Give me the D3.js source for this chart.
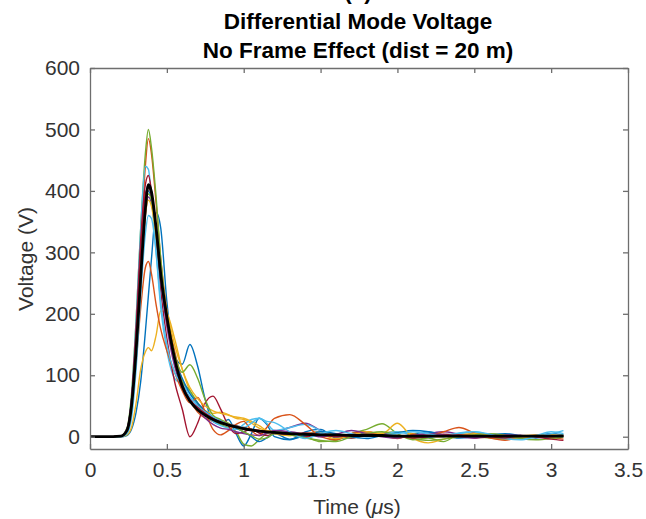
<!DOCTYPE html>
<html>
<head>
<meta charset="utf-8">
<script src="https://cdn.jsdelivr.net/npm/d3@7"></script>
<style>
  body { margin: 0; background: #fff; }
  text { font-family: "Liberation Sans", Arial, sans-serif; }
</style>
</head>
<body>
<div id="chart"></div>
<script>
// time samples (us) shared by every run
const timeUs = [0, 0.1, 0.2, 0.24, 0.27, 0.30, 0.33, 0.36, 0.38, 0.40,
  0.43, 0.46, 0.50, 0.55, 0.60, 0.65, 0.70, 0.75, 0.80, 0.85,
  0.90, 0.95, 1.00, 1.05, 1.10, 1.15, 1.20, 1.3, 1.4, 1.5,
  1.6, 1.7, 1.8, 1.9, 2.0, 2.1, 2.2, 2.3, 2.4, 2.5,
  2.6, 2.7, 2.8, 2.9, 3.0, 3.08];

// voltage (V) for each simulated stroke
const run01 = [0,0,0,2,12,40,90,170,230,290, 365,340,220,130,118,150,115,60,25,20, 28,5,-15,5,30,20,0,-5,8,12, -2,0,6,3,-2,4,8,3,0,6, 2,-3,0,2,5,3];
const run02 = [0,0,1,12,60,170,310,440,485,460, 380,290,205,140,92,60,40,30,25,22, 20,18,15,12,10,9,8,6,5,4, 3,3,2,2,1,1,1,1,2,1, 1,0,0,1,1,1];
const run03 = [0,0,0,3,15,55,110,138,145,140, 165,205,200,160,110,75,55,42,38,40, 36,30,28,22,14,10,8,2,5,8, 3,-2,2,6,8,5,0,0,5,3, 2,0,1,3,2,1];
const run04 = [0,0,1,10,45,135,255,360,390,380, 330,260,190,120,78,62,52,40,30,24, 20,15,12,10,9,6,8,15,22,10, 0,5,8,3,0,2,5,8,4,0, 2,1,0,1,2,1];
const run05 = [0,0,1,14,70,190,340,460,500,470, 390,290,200,125,90,75,55,38,28,20, 15,8,-12,-15,-5,5,8,6,0,-8, -6,5,12,21,5,-5,-2,-8,3,0, -2,-4,-3,0,2,1];
const run06 = [0,0,1,12,65,190,340,440,435,390, 300,210,140,95,85,70,50,35,25,18, 14,12,20,28,30,22,10,15,20,10, 0,-2,3,5,8,2,-1,3,5,8, 3,0,-2,2,8,5];
const run07 = [0,0,1,12,60,175,320,410,425,400, 330,240,160,90,45,0,22,55,66,45, 18,5,8,12,6,2,5,3,0,4, 2,-2,3,5,2,-1,2,4,1,-2, 0,2,1,-1,0,1];
const run08 = [0,0,1,10,55,160,290,380,400,385, 330,255,185,125,95,70,55,42,32,26, 20,14,8,0,-8,-2,5,-4,2,8, 5,0,-3,2,6,10,8,2,-2,0, 3,5,2,-2,0,2];
const run09 = [0,0,1,10,45,120,210,275,285,265, 215,175,140,105,75,55,64,40,12,3, 10,20,25,10,2,15,30,36,20,0, -5,5,8,2,-3,4,2,8,15,6, -2,-6,0,2,-1,-4];
const run10 = [0,0,1,8,45,140,260,360,385,375, 325,265,205,150,110,80,62,50,42,38, 35,32,30,25,18,10,5,2,5,3, -3,2,8,5,22,-2,-10,-4,2,5, 3,0,-2,1,3,2];
const run11 = [0,0,1,12,58,165,300,390,410,395, 335,255,180,115,80,58,45,30,20,14, 12,8,5,3,2,6,10,8,4,0, 4,10,5,0,-2,2,5,3,0,-2, 1,3,2,0,1,1];
const run12 = [0,0,1,10,50,150,280,375,395,385, 335,270,200,135,105,117,95,60,35,28, 22,15,8,2,-4,-2,5,3,-2,-6, -8,0,5,8,2,-3,-6,-4,0,3, 5,2,-3,-5,-3,0];
const run13 = [0,0,0,5,30,110,230,330,360,355, 300,220,150,105,85,65,50,40,32,25, 20,18,15,22,30,25,23,8,-3,5, 10,5,0,3,5,8,5,0,6,8, 4,-3,-5,0,5,10];
const run14 = [0,0,1,11,58,170,305,395,405,392, 335,260,190,125,85,60,48,38,30,24, 20,17,14,12,10,8,6,4,6,3, 0,2,4,3,1,-2,0,2,3,1, 0,-2,2,0,-4,-6];
// average of all runs
const meanRun = [0,0,1,10,50,140,260,370,410,398, 340,265,195,128,82,58,44,35,28,23, 19,16,13,11,9,8,7,5,4,3, 3,2,2,2,1,1,1,1,1,1, 1,1,1,1,1,1];

const runs = [run01, run02, run03, run04, run05, run06, run07, run08, run09, run10, run11, run12, run13, run14];
const xTicks = [0, 0.5, 1, 1.5, 2, 2.5, 3, 3.5];
const yTicks = [0, 100, 200, 300, 400, 500, 600];

// matlab default color order
const colorOrder = ["#0072BD", "#D95319", "#EDB120", "#7E2F8E", "#77AC30", "#4DBEEE", "#A2142F"];

const W = 646, H = 519;
const margin = {top: 68, right: 18, bottom: 70, left: 90};
const width = W - margin.left - margin.right,
      height = H - margin.top - margin.bottom;

const svg = d3.select("#chart").append("svg")
    .attr("width", W)
    .attr("height", H);

const g = svg.append("g")
    .attr("transform", `translate(${margin.left},${margin.top})`);

const x = d3.scaleLinear().domain([0, 3.5]).range([0, width]);
const y = d3.scaleLinear().domain([-20, 600]).range([height, 0]);

const line = d3.line()
    .x((d, i) => x(timeUs[i]))
    .y(d => y(d))
    .curve(d3.curveMonotoneX);

const plot = g.append("g");
plot.selectAll("path.run")
  .data(runs)
  .join("path")
    .attr("class", "run")
    .attr("fill", "none")
    .attr("stroke", (d, i) => colorOrder[i % colorOrder.length])
    .attr("stroke-width", 1.4)
    .attr("d", line);

plot.append("path")
    .attr("fill", "none")
    .attr("stroke", "#000")
    .attr("stroke-width", 2.8)
    .attr("d", line(meanRun));

// axes, matlab style ticks pointing in
const axisColor = "#6e6e6e", textColor = "#333";
function styleAxis(sel) {
  sel.select(".domain").attr("stroke", axisColor).attr("stroke-width", 1.3);
  sel.selectAll(".tick line").attr("stroke", axisColor).attr("stroke-width", 1.3);
  sel.selectAll(".tick text")
     .attr("fill", textColor)
     .style("font-family", "'Liberation Sans', Arial, sans-serif")
     .style("font-size", "21px");
}

g.append("g")
    .attr("transform", `translate(0,${height})`)
    .call(d3.axisBottom(x).tickValues(xTicks).tickFormat(d3.format("")).tickSizeInner(-5).tickSizeOuter(0).tickPadding(13))
    .call(styleAxis);
g.append("g")
    .call(d3.axisTop(x).tickValues(xTicks).tickFormat("").tickSizeInner(-5).tickSizeOuter(0))
    .call(styleAxis);
g.append("g")
    .call(d3.axisLeft(y).tickValues(yTicks).tickFormat(d3.format("")).tickSizeInner(-5).tickSizeOuter(0).tickPadding(10))
    .call(styleAxis);
g.append("g")
    .attr("transform", `translate(${width},0)`)
    .call(d3.axisRight(y).tickValues(yTicks).tickFormat("").tickSizeInner(-5).tickSizeOuter(0))
    .call(styleAxis);

// labels
svg.append("text")
    .attr("x", 357)
    .attr("y", 514)
    .attr("text-anchor", "middle")
    .attr("fill", textColor)
    .style("font-size", "21px")
    .html('Time (<tspan font-style="italic">μ</tspan>s)');

svg.append("text")
    .attr("transform", `translate(33,259) rotate(-90)`)
    .attr("text-anchor", "middle")
    .attr("fill", textColor)
    .style("font-size", "21px")
    .text("Voltage (V)");

const titleLines = ["(c)", "Differential Mode Voltage", "No Frame Effect (dist = 20 m)"];
svg.selectAll("text.title")
  .data(titleLines)
  .join("text")
    .attr("class", "title")
    .attr("x", 358)
    .attr("y", (d, i) => -1 + i * 29.5)
    .attr("text-anchor", "middle")
    .attr("fill", "#000")
    .style("font-size", "22.5px")
    .style("font-weight", "bold")
    .text(d => d);
</script>
</body>
</html>
